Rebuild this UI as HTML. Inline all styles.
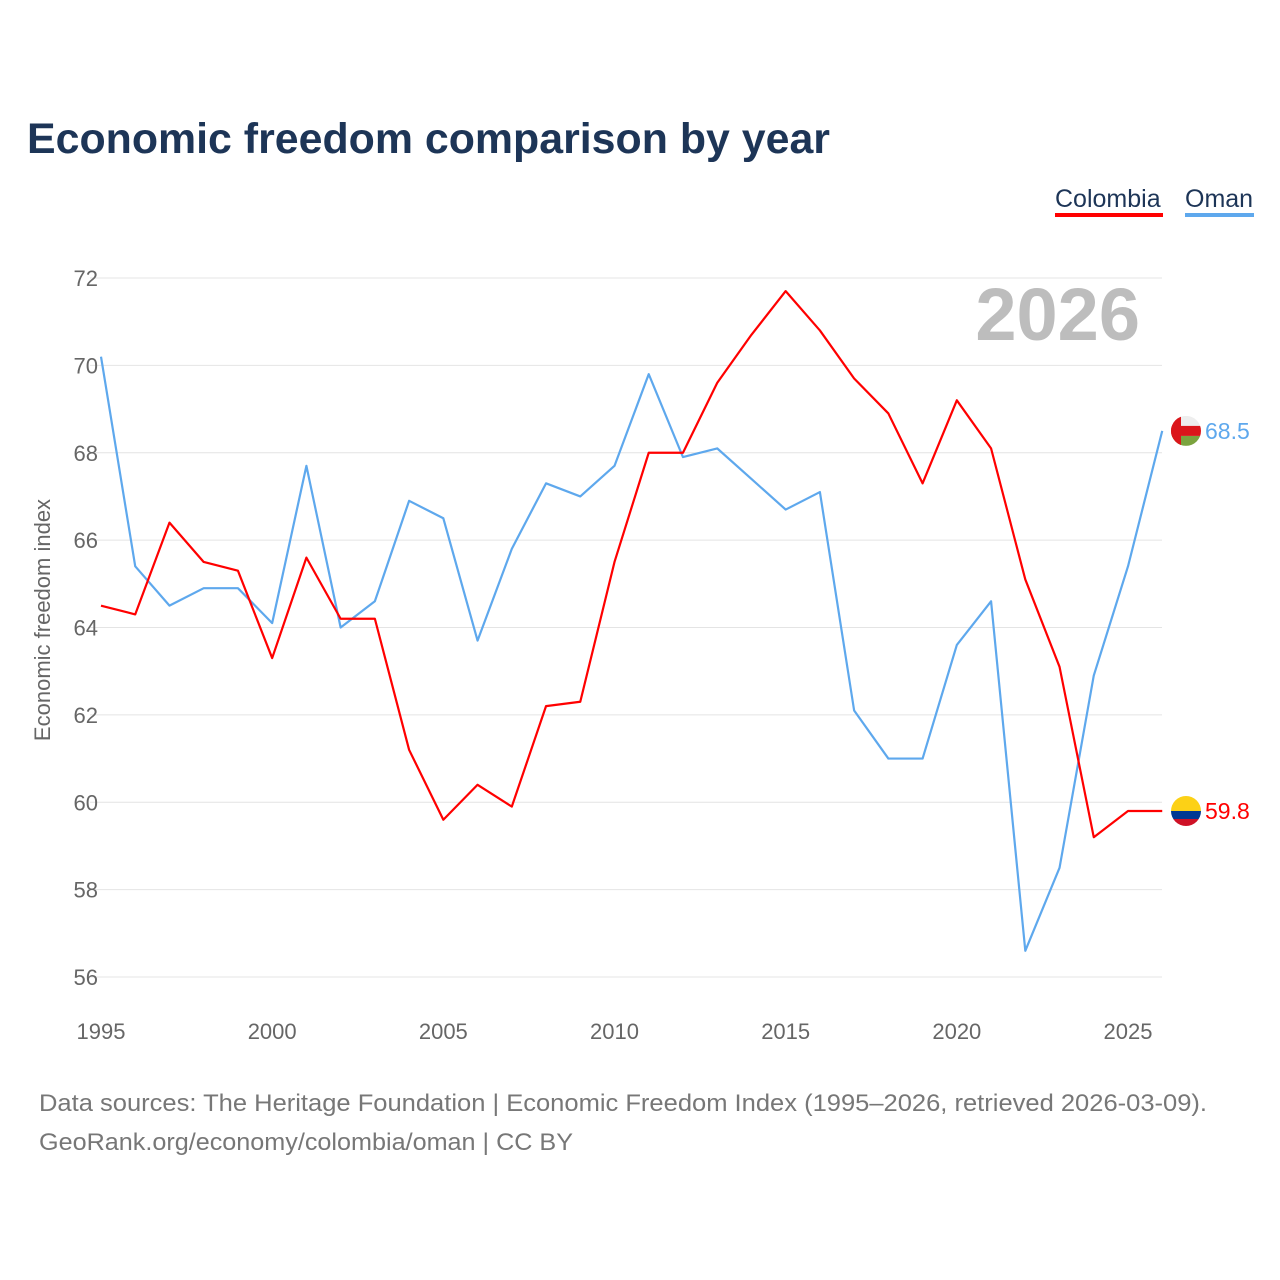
<!DOCTYPE html>
<html><head><meta charset="utf-8"><style>
body{margin:0;background:#fff;}
svg{display:block;font-family:"Liberation Sans",Lato,sans-serif;}
</style></head><body>
<svg id="chart" width="1280" height="1280" viewBox="0 0 1280 1280">
<text x="27" y="153" font-size="43" font-weight="bold" fill="#1d3557" textLength="803" lengthAdjust="spacingAndGlyphs">Economic freedom comparison by year</text>
<g>
<text x="1055" y="207" font-size="25" fill="#1d3557">Colombia</text>
<rect x="1055" y="213" width="108" height="4" fill="#ff0000"/>
<text x="1185" y="207" font-size="25" fill="#1d3557">Oman</text>
<rect x="1185" y="213" width="69" height="4" fill="#5ea8ed"/>
</g>
<g id="grid"></g>
<text x="1140" y="340" font-size="74" font-weight="bold" fill="#bdbdbd" text-anchor="end">2026</text>
<text transform="translate(50,620) rotate(-90)" font-size="22" fill="#666" text-anchor="middle">Economic freedom index</text>
<g id="series"></g>
<g>
<text x="39" y="1111" font-size="24" fill="#777" textLength="1168" lengthAdjust="spacingAndGlyphs">Data sources: The Heritage Foundation | Economic Freedom Index (1995–2026, retrieved 2026-03-09).</text>
<text x="39" y="1150" font-size="24" fill="#777" textLength="534" lengthAdjust="spacingAndGlyphs">GeoRank.org/economy/colombia/oman | CC BY</text>
</g>
</svg>
<script>
const years = [1995,1996,1997,1998,1999,2000,2001,2002,2003,2004,2005,2006,2007,2008,2009,2010,2011,2012,2013,2014,2015,2016,2017,2018,2019,2020,2021,2022,2023,2024,2025,2026];
const colombia = [64.5,64.3,66.4,65.5,65.3,63.3,65.6,64.2,64.2,61.2,59.6,60.4,59.9,62.2,62.3,65.5,68.0,68.0,69.6,70.7,71.7,70.8,69.7,68.9,67.3,69.2,68.1,65.1,63.1,59.2,59.8,59.8];
const oman = [70.2,65.4,64.5,64.9,64.9,64.1,67.7,64.0,64.6,66.9,66.5,63.7,65.8,67.3,67.0,67.7,69.8,67.9,68.1,67.4,66.7,67.1,62.1,61.0,61.0,63.6,64.6,56.6,58.5,62.9,65.4,68.5];
const yTicks = [56,58,60,62,64,66,68,70,72];
const xTicks = [1995,2000,2005,2010,2015,2020,2025];

const NS="http://www.w3.org/2000/svg";
const xs = y => 101 + (y-1995)*(1128-101)/30;
const ys = v => 278 + (72-v)*(977-278)/16;
function mk(tag, attrs, parent){const e=document.createElementNS(NS,tag);for(const k in attrs)e.setAttribute(k,attrs[k]);parent.appendChild(e);return e;}
const grid=document.getElementById('grid');
yTicks.forEach(t=>{
  const l=mk('line',{x1:90,x2:1162,y1:ys(t),y2:ys(t),stroke:'#e4e4e4','stroke-width':1},grid);
  
  
  const tx=mk('text',{x:98,y:ys(t)+8,'font-size':22,fill:'#666','text-anchor':'end'},grid);
  tx.textContent=t;
  
  
});
xTicks.forEach(t=>{
  const tx=mk('text',{x:xs(t),y:1039,'font-size':22,fill:'#666','text-anchor':'middle'},grid);
  tx.textContent=t;
  
  
});
const ser=document.getElementById('series');
function line(vals,color,name){
  const p=mk('polyline',{points:vals.map((v,i)=>xs(years[i])+','+ys(v)).join(' '),fill:'none',stroke:color,'stroke-width':2.2,'stroke-linejoin':'round'},ser);
  
  
}
line(oman,'#5ea8ed','oman-line');
line(colombia,'#ff0000','colombia-line');
const oy=ys(oman[oman.length-1]), cy=ys(colombia[colombia.length-1]);
const defs=mk('defs',{},ser);
const c1=mk('clipPath',{id:'cpO'},defs);mk('circle',{cx:1186,cy:oy,r:15},c1);
const c2=mk('clipPath',{id:'cpC'},defs);mk('circle',{cx:1186,cy:cy,r:15},c2);
const fo=mk('g',{'clip-path':'url(#cpO)'},ser);


mk('rect',{x:1171,y:oy-15,width:30,height:30,fill:'#eeeeee'},fo);
mk('rect',{x:1171,y:oy+5,width:30,height:10,fill:'#7ba33e'},fo);
mk('rect',{x:1171,y:oy-5,width:30,height:10,fill:'#db161b'},fo);
mk('rect',{x:1171,y:oy-15,width:10,height:30,fill:'#db161b'},fo);
const fc=mk('g',{'clip-path':'url(#cpC)'},ser);


mk('rect',{x:1171,y:cy-15,width:30,height:15,fill:'#fcd116'},fc);
mk('rect',{x:1171,y:cy,width:30,height:8,fill:'#003893'},fc);
mk('rect',{x:1171,y:cy+8,width:30,height:7,fill:'#ce1126'},fc);
const lo=mk('text',{x:1205,y:oy+8,'font-size':23,fill:'#5ea8ed'},ser);
lo.textContent=oman[oman.length-1].toFixed(1);


const lc=mk('text',{x:1205,y:cy+8,'font-size':23,fill:'#ff0000'},ser);
lc.textContent=colombia[colombia.length-1].toFixed(1);


</script>
</body></html>
